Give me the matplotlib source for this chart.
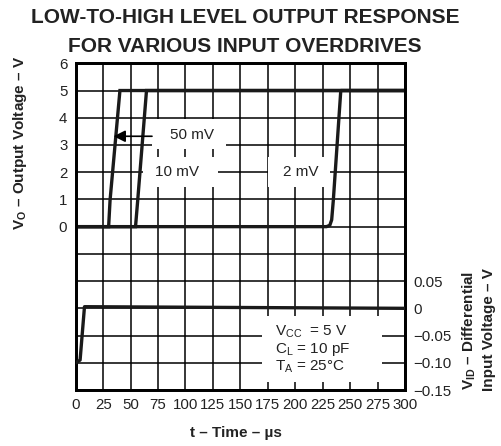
import matplotlib
matplotlib.use("Agg")
import matplotlib.pyplot as plt
from matplotlib.patches import Rectangle

plt.rcParams['font.family'] = ['Liberation Sans', 'DejaVu Sans']
plt.rcParams['mathtext.fontset'] = 'custom'
plt.rcParams['mathtext.rm'] = 'Liberation Sans'
plt.rcParams['mathtext.bf'] = 'Liberation Sans:bold'

# ---- data ----
t_50mv = [0, 30, 31.3, 40.3, 300]
vo_50mv = [0, 0, 0.97, 5, 5]
t_10mv = [0, 54.5, 56.5, 64.5, 300]
vo_10mv = [0, 0, 0.97, 5, 5]
t_2mv = [0, 228.5, 231.5, 233.2, 234.7, 241.5, 300]
vo_2mv = [0, 0, 0.05, 0.25, 0.97, 5, 5]
t_in = [0, 4, 8, 300]
vid_in = [-0.10, -0.095, 0.003, 0.0]

x_ticks = [0, 25, 50, 75, 100, 125, 150, 175, 200, 225, 250, 275, 300]
left_ticks = [0, 1, 2, 3, 4, 5, 6]
right_ticks = [-0.15, -0.10, -0.05, 0, 0.05]
right_labels = ['\u22120.15', '\u22120.10', '\u22120.05', '0', '0.05']

fig = plt.figure(figsize=(5.02, 4.46), dpi=100)
ax = fig.add_axes([75.7 / 502, 56 / 446, 329.3 / 502, 326.7 / 446])
ax.set_xlim(0, 300)
ax.set_ylim(-6, 6)
ax.set_axisbelow(True)

tfs = 10.8
ax.set_xticks(x_ticks)
ax.set_xticklabels([str(v) for v in x_ticks], fontsize=tfs, color='#222222')
ax.set_yticks(range(-6, 7))
ax.set_yticklabels([str(v) if v in left_ticks else '' for v in range(-6, 7)],
                   fontsize=tfs, color='#222222')
ax.tick_params(length=0, pad=6)
ax.grid(True, color='black', lw=1.1)
for s in ax.spines.values():
    s.set_linewidth(2.0)

# white label boxes covering grid
boxes = [(69.5, 2.85, 67.5, 1.1), (61, 1.45, 69, 1.1), (175.5, 1.45, 56, 1.1),
         (170, -5.7, 109, 2.4)]
for (x0, y0, w, h) in boxes:
    ax.add_patch(Rectangle((x0, y0), w, h, facecolor='white', edgecolor='none', zorder=1))

lw = 2.4
ax.plot(t_50mv, vo_50mv, color='#1a1a1a', lw=lw, zorder=3, solid_joinstyle='miter')
ax.plot(t_10mv, vo_10mv, color='#1a1a1a', lw=lw, zorder=3, solid_joinstyle='miter')
ax.plot(t_2mv, vo_2mv, color='#1a1a1a', lw=lw, zorder=3)

fs = 11
ax.text(106, 3.35, '50 mV', fontsize=fs, ha='center', va='center', zorder=4, color='#222222')
ax.annotate('', xy=(34.5, 3.32), xytext=(69.5, 3.32),
            arrowprops=dict(arrowstyle='-|>,head_length=0.7,head_width=0.35',
                            color='black', lw=1.2, shrinkA=0, shrinkB=0), zorder=4)
ax.text(92, 2.0, '10 mV', fontsize=fs, ha='center', va='center', zorder=4, color='#222222')
ax.text(205, 2.0, '2 mV', fontsize=fs, ha='center', va='center', zorder=4, color='#222222')

ax.text(182, -3.85, 'V$_\\mathregular{CC}$  = 5 V', fontsize=fs, ha='left', va='center',
        zorder=4, color='#222222')
ax.text(182, -4.5, 'C$_\\mathregular{L}$ = 10 pF', fontsize=fs, ha='left', va='center',
        zorder=4, color='#222222')
ax.text(182, -5.15, 'T$_\\mathregular{A}$ = 25\u00b0C', fontsize=fs, ha='left', va='center',
        zorder=4, color='#222222')

ax2 = ax.twinx()
ax2.set_ylim(-0.15, 0.45)
ax2.set_yticks(right_ticks)
ax2.set_yticklabels(right_labels, fontsize=tfs, color='#222222')
ax2.tick_params(length=0, pad=6)
for s in ax2.spines.values():
    s.set_linewidth(2.0)
ax2.plot(t_in, vid_in, color='#1a1a1a', lw=lw, zorder=3)

fig.text(0.488, 1 - 17.5 / 446, 'LOW-TO-HIGH LEVEL OUTPUT RESPONSE', fontsize=15,
         fontweight='bold', ha='center', va='center', color='#222222')
fig.text(0.488, 1 - 46 / 446, 'FOR VARIOUS INPUT OVERDRIVES', fontsize=15,
         fontweight='bold', ha='center', va='center', color='#222222')
lfs = 11
fig.text(236 / 502, 1 - 433 / 446, 't \u2013 Time \u2013 \u00b5s', fontsize=lfs,
         fontweight='bold', ha='center', va='center', color='#222222')
fig.text(20 / 502, 1 - 143 / 446, 'V$_\\mathregular{O}$ \u2013 Output Voltage \u2013 V', fontsize=lfs,
         fontweight='bold', ha='center', va='center', rotation=90, color='#222222')
fig.text(469 / 502, 1 - 330 / 446, 'V$_\\mathregular{ID}$ \u2013 Differential', fontsize=lfs,
         fontweight='bold', ha='center', va='center', rotation=90, color='#222222')
fig.text(489 / 502, 1 - 330 / 446, 'Input Voltage \u2013 V', fontsize=lfs,
         fontweight='bold', ha='center', va='center', rotation=90, color='#222222')

fig.savefig('out.png', dpi=100)
